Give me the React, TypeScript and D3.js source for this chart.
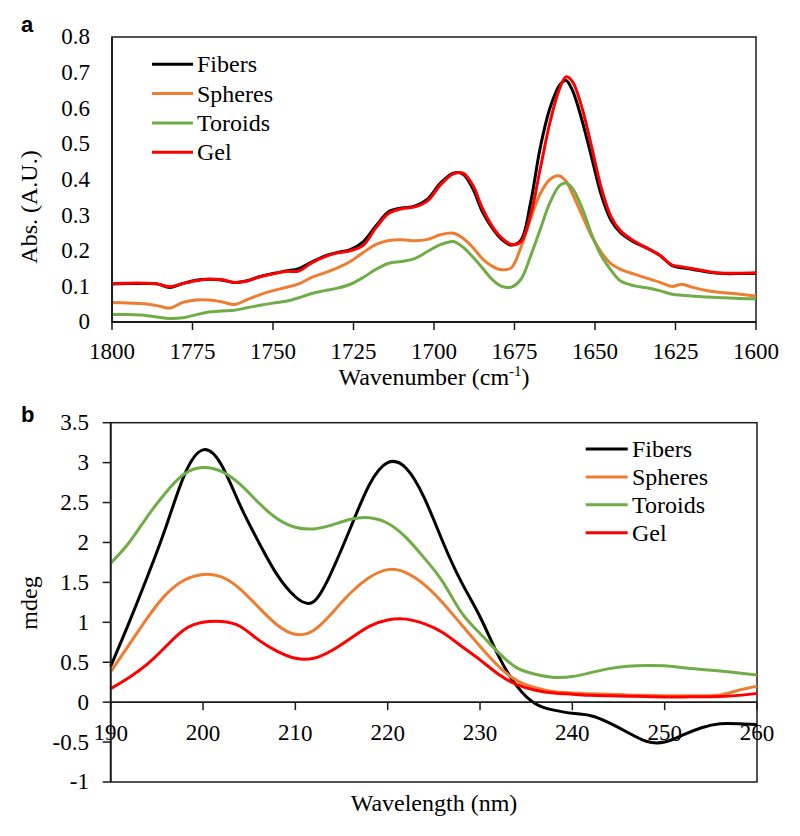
import React from 'react';
import * as d3 from 'd3';

const seriesNames = ['Fibers', 'Spheres', 'Toroids', 'Gel'];
const seriesColors = ['#000000', '#ED7D31', '#70AD47', '#FF0000'];

// Panel a: FTIR
const ftirWavenumbers = [1800, 1795, 1790, 1786, 1782, 1778, 1774, 1770, 1766, 1762, 1758, 1754, 1750, 1746, 1742, 1738, 1734, 1730, 1726, 1722, 1718, 1714, 1710, 1706, 1702, 1698, 1694, 1691, 1688, 1685, 1682, 1679, 1676, 1673, 1670, 1667, 1664, 1661, 1659, 1657, 1654, 1651, 1648, 1645, 1642, 1638, 1634, 1630, 1626, 1623, 1620, 1615, 1610, 1605, 1600];
const ftirFibers = [0.107, 0.108, 0.108, 0.107, 0.097, 0.108, 0.117, 0.12, 0.118, 0.111, 0.116, 0.128, 0.136, 0.143, 0.15, 0.168, 0.185, 0.195, 0.203, 0.225, 0.27, 0.31, 0.32, 0.325, 0.345, 0.39, 0.418, 0.415, 0.375, 0.31, 0.265, 0.232, 0.216, 0.23, 0.335, 0.49, 0.6, 0.665, 0.678, 0.65, 0.565, 0.46, 0.355, 0.285, 0.25, 0.225, 0.208, 0.188, 0.158, 0.152, 0.148, 0.14, 0.136, 0.136, 0.137];
const ftirSpheres = [0.055, 0.053, 0.051, 0.046, 0.039, 0.055, 0.062, 0.062, 0.057, 0.049, 0.063, 0.077, 0.088, 0.097, 0.107, 0.125, 0.138, 0.152, 0.17, 0.195, 0.218, 0.229, 0.231, 0.228, 0.232, 0.245, 0.249, 0.235, 0.21, 0.178, 0.157, 0.147, 0.152, 0.21, 0.29, 0.36, 0.4, 0.41, 0.395, 0.36, 0.3, 0.24, 0.195, 0.163, 0.148, 0.135, 0.123, 0.112, 0.1, 0.106, 0.098, 0.088, 0.082, 0.078, 0.073];
const ftirToroids = [0.021, 0.021, 0.019, 0.014, 0.01, 0.012, 0.02, 0.028, 0.031, 0.033, 0.04, 0.047, 0.053, 0.058, 0.068, 0.08, 0.088, 0.095, 0.106, 0.125, 0.148, 0.165, 0.17, 0.178, 0.198, 0.217, 0.226, 0.21, 0.183, 0.152, 0.12, 0.1, 0.098, 0.12, 0.185, 0.26, 0.335, 0.383, 0.39, 0.375, 0.32, 0.245, 0.185, 0.145, 0.115, 0.102, 0.096, 0.088, 0.078, 0.075, 0.073, 0.07, 0.068, 0.066, 0.065];
const ftirGel = [0.108, 0.109, 0.109, 0.107, 0.099, 0.108, 0.116, 0.12, 0.119, 0.111, 0.115, 0.127, 0.135, 0.142, 0.143, 0.166, 0.183, 0.194, 0.2, 0.215, 0.265, 0.305, 0.318, 0.323, 0.34, 0.385, 0.416, 0.418, 0.385, 0.32, 0.27, 0.236, 0.218, 0.225, 0.3, 0.43, 0.56, 0.655, 0.688, 0.675, 0.6, 0.49, 0.375, 0.295, 0.255, 0.228, 0.208, 0.188, 0.16, 0.155, 0.15, 0.142, 0.137, 0.137, 0.138];

// Panel b: CD
const cdWavelengths = [190, 192, 194, 196, 198, 200, 202, 204, 206, 208, 210, 212, 214, 216, 218, 220, 222, 224, 226, 228, 230, 232, 234, 236, 238, 240, 242, 244, 246, 248, 250, 252, 254, 256, 258, 260];
const cdFibers = [0.45, 1.0, 1.58, 2.2, 2.85, 3.16, 2.97, 2.47, 2.01, 1.6, 1.32, 1.26, 1.65, 2.19, 2.72, 3.0, 2.93, 2.55, 2.0, 1.5, 1.07, 0.58, 0.2, -0.02, -0.1, -0.14, -0.17, -0.26, -0.38, -0.49, -0.5, -0.41, -0.32, -0.27, -0.27, -0.28];
const cdSpheres = [0.38, 0.72, 1.06, 1.35, 1.53, 1.6, 1.57, 1.42, 1.19, 0.97, 0.85, 0.9, 1.12, 1.37, 1.56, 1.66, 1.62, 1.47, 1.24, 0.97, 0.7, 0.45, 0.27, 0.18, 0.13, 0.115, 0.105, 0.1, 0.09, 0.085, 0.08, 0.08, 0.08, 0.09, 0.15, 0.2];
const cdToroids = [1.74, 2.0, 2.33, 2.63, 2.86, 2.94, 2.89, 2.73, 2.5, 2.3, 2.19, 2.17, 2.22, 2.29, 2.31, 2.24, 2.06, 1.8, 1.5, 1.12, 0.86, 0.62, 0.43, 0.35, 0.31, 0.32, 0.37, 0.42, 0.45, 0.46, 0.455, 0.43, 0.41, 0.39, 0.365, 0.34];
const cdGel = [0.17, 0.31, 0.48, 0.7, 0.91, 1.0, 1.01, 0.95, 0.78, 0.64, 0.55, 0.55, 0.65, 0.8, 0.95, 1.03, 1.04, 0.98, 0.87, 0.7, 0.53, 0.35, 0.22, 0.15, 0.115, 0.1, 0.085, 0.08, 0.075, 0.07, 0.065, 0.065, 0.068, 0.07, 0.085, 0.11];

const ftirXTicks = [1800, 1775, 1750, 1725, 1700, 1675, 1650, 1625, 1600];
const ftirYTicks = [0, 0.1, 0.2, 0.3, 0.4, 0.5, 0.6, 0.7, 0.8];
const cdXTicks = [190, 200, 210, 220, 230, 240, 250, 260];
const cdYTicks = [-1, -0.5, 0, 0.5, 1, 1.5, 2, 2.5, 3, 3.5];

const serif = 'Liberation Serif';
const sans = 'Liberation Sans';
const axisColor = '#1a1a1a';

function T(props: any) {
  const { x, y, children, anchor, size, family, weight } = props;
  return (
    <text
      x={x}
      y={y}
      transform={`rotate(0.001 ${x} ${y})`}
      textAnchor={anchor || 'start'}
      fontFamily={family || serif}
      fontWeight={weight || 'normal'}
      fontSize={size || 23}
      fill="#000"
    >
      {children}
    </text>
  );
}

export default function App() {
  const ax = d3.scaleLinear().domain([1800, 1600]).range([112, 756]);
  const ay = d3.scaleLinear().domain([0, 0.8]).range([322, 37]);
  const bx = d3.scaleLinear().domain([190, 260]).range([110.7, 757]);
  const by = d3.scaleLinear().domain([-1, 3.5]).range([782, 422.7]);

  const ftirSeries = [ftirFibers, ftirSpheres, ftirToroids, ftirGel];
  const cdSeries = [cdFibers, cdSpheres, cdToroids, cdGel];

  const lineA = d3
    .line<[number, number]>()
    .x((d) => ax(d[0]))
    .y((d) => ay(d[1]))
    .curve(d3.curveCatmullRom.alpha(0.5));
  const lineB = d3
    .line<[number, number]>()
    .x((d) => bx(d[0]))
    .y((d) => by(d[1]))
    .curve(d3.curveNatural);

  const [ax0, ax1] = ax.range();
  const [ay0, ay1] = ay.range();
  const [bx0, bx1] = bx.range();
  const [by0, by1] = by.range();

  return (
    <svg width={800} height={836} style={{ position: 'absolute', left: 0, top: 0 }}>
      {/* ===== Panel a ===== */}
      <rect x={ax0} y={ay1} width={ax1 - ax0} height={ay0 - ay1} fill="none" stroke={axisColor} strokeWidth={1.5} />
      {ftirXTicks.map((t) => (
        <g key={'axt' + t}>
          <line x1={ax(t)} x2={ax(t)} y1={ay0} y2={ay0 + 8} stroke={axisColor} strokeWidth={1.5} />
          <T x={ax(t)} y={359} anchor="middle">{t}</T>
        </g>
      ))}
      {ftirYTicks.map((t) => (
        <T key={'ayt' + t} x={90} y={ay(t) + 7.5} anchor="end">{String(t)}</T>
      ))}
      {ftirSeries.map((vals, i) => (
        <path
          key={'fa' + i}
          d={lineA(ftirWavenumbers.map((w, j) => [w, vals[j]] as [number, number])) || ''}
          fill="none"
          stroke={seriesColors[i]}
          strokeWidth={3}
          strokeLinejoin="round"
        />
      ))}
      <line x1={ax0} x2={ax1} y1={ay0} y2={ay0} stroke={axisColor} strokeWidth={1.8} />
      <line x1={ax0} x2={ax0} y1={ay0} y2={ay1} stroke={axisColor} strokeWidth={1.8} />
      {seriesNames.map((n, i) => (
        <g key={'la' + i}>
          <line x1={152} x2={193} y1={64.3 + i * 29.3} y2={64.3 + i * 29.3} stroke={seriesColors[i]} strokeWidth={3} />
          <T x={197} y={64.3 + i * 29.3 + 8} size={24}>{n}</T>
        </g>
      ))}
      <text x={434} y={385} transform="rotate(0.001 434 385)" textAnchor="middle" fontFamily={serif} fontSize={24}>
        Wavenumber (cm<tspan fontSize={15} dy={-9}>-1</tspan><tspan dy={9}>)</tspan>
      </text>
      <text transform="translate(37,207) rotate(-90)" textAnchor="middle" fontFamily={serif} fontSize={24}>Abs. (A.U.)</text>

      {/* ===== Panel b ===== */}
      <rect x={bx0} y={by1} width={bx1 - bx0} height={by0 - by1} fill="none" stroke={axisColor} strokeWidth={1.5} />
      {cdYTicks.map((t) => (
        <g key={'byt' + t}>
          <line x1={bx0 - 8} x2={bx0} y1={by(t)} y2={by(t)} stroke={axisColor} strokeWidth={1.5} />
          <T x={89} y={by(t) + 7.5} anchor="end">{String(t)}</T>
        </g>
      ))}
      {cdXTicks.map((t) => (
        <g key={'bxt' + t}>
          <line x1={bx(t)} x2={bx(t)} y1={by(0)} y2={by(0) + 8} stroke={axisColor} strokeWidth={1.5} />
          <T x={bx(t)} y={740.5} anchor="middle">{t}</T>
        </g>
      ))}
      {cdSeries.map((vals, i) => (
        <path
          key={'cb' + i}
          d={lineB(cdWavelengths.map((w, j) => [w, vals[j]] as [number, number])) || ''}
          fill="none"
          stroke={seriesColors[i]}
          strokeWidth={3}
          strokeLinejoin="round"
        />
      ))}
      <line x1={bx0} x2={bx1} y1={by(0)} y2={by(0)} stroke={axisColor} strokeWidth={1.8} />
      <line x1={bx0} x2={bx0} y1={by0} y2={by1} stroke={axisColor} strokeWidth={1.8} />
      {seriesNames.map((n, i) => (
        <g key={'lb' + i}>
          <line x1={585.7} x2={627.7} y1={449 + i * 27.9} y2={449 + i * 27.9} stroke={seriesColors[i]} strokeWidth={3} />
          <T x={632} y={449 + i * 27.9 + 8} size={24}>{n}</T>
        </g>
      ))}
      <T x={434} y={811} anchor="middle" size={24}>Wavelength (nm)</T>
      <text transform="translate(37,603) rotate(-90)" textAnchor="middle" fontFamily={serif} fontSize={24}>mdeg</text>

      <T x={21} y={32} family={sans} weight="bold" size={22}>a</T>
      <T x={21} y={422} family={sans} weight="bold" size={22}>b</T>
    </svg>
  );
}
